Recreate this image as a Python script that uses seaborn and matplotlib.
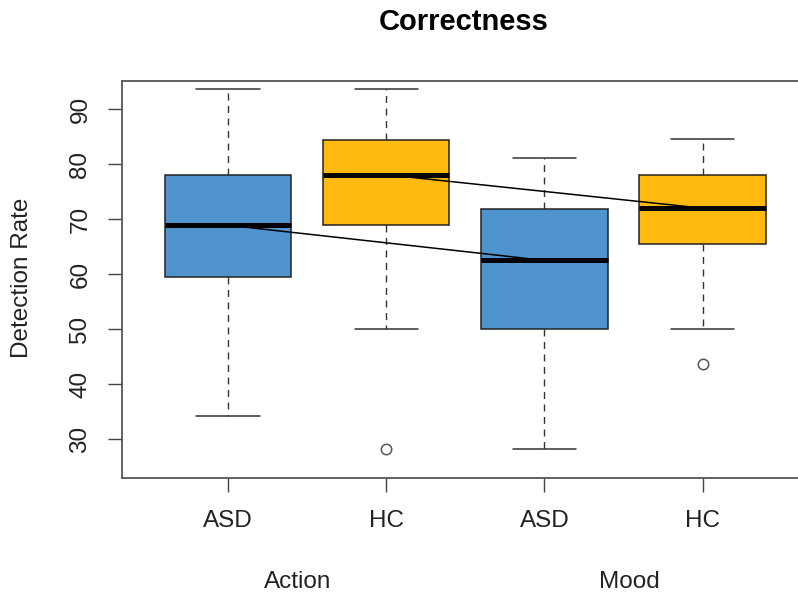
import matplotlib
matplotlib.use("Agg")
import matplotlib.pyplot as plt
import seaborn as sns
import pandas as pd

# ---- data ----
groups = ["ASD", "HC", "ASD", "HC"]
conditions = ["Action", "Action", "Mood", "Mood"]
whisker_low = [34.2, 50.0, 28.1, 50.0]
q1 = [59.4, 68.9, 50.0, 65.5]
medians = [68.9, 78.1, 62.5, 72.0]
q3 = [78.0, 84.5, 71.9, 78.0]
whisker_high = [93.7, 93.7, 81.2, 84.6]
outliers = [[], [28.2], [], [43.7]]
box_colors = ["#4F94CD", "#FFB90F", "#4F94CD", "#FFB90F"]
y_ticks = [30, 40, 50, 60, 70, 80, 90]
condition_labels = ["Action", "Mood"]

sns.set_theme(style="white")
plt.rcParams["font.family"] = ["Liberation Sans", "DejaVu Sans"]

W, H = 798, 597
fig = plt.figure(figsize=(W / 100, H / 100), dpi=100)
ax = fig.add_axes([122 / W, 1 - 478 / H, 685 / W, 397 / H])

positions = list(range(len(groups)))
stats = []
for i in positions:
    stats.append(dict(med=medians[i], q1=q1[i], q3=q3[i],
                      whislo=whisker_low[i], whishi=whisker_high[i],
                      fliers=outliers[i], label=groups[i]))

res = ax.bxp(stats, positions=positions, widths=0.8, capwidths=0.4,
             patch_artist=True, showfliers=True,
             boxprops=dict(edgecolor="#222222", linewidth=1.1),
             medianprops=dict(color="black", linewidth=3.6, solid_capstyle="butt"),
             whiskerprops=dict(color="#333333", linewidth=1.0, linestyle=(0, (5, 4))),
             capprops=dict(color="#333333", linewidth=1.1),
             flierprops=dict(marker="o", markerfacecolor="white",
                             markeredgecolor="#555555", markersize=7.5,
                             markeredgewidth=1.1))
for patch, c in zip(res["boxes"], box_colors):
    patch.set_facecolor(c)

# lines connecting medians of same group across conditions
df = pd.DataFrame({"pos": positions, "median": medians, "group": groups})
sns.lineplot(data=df, x="pos", y="median", units="group", estimator=None,
             color="black", linewidth=1.1, ax=ax, legend=False, sort=True)

ax.set_xlim(-0.67, 3.66)
ax.set_ylim(22.9, 95.15)
ax.set_xticks(positions)
ax.set_xticklabels(groups)
ax.set_yticks(y_ticks)
ax.set_yticklabels([str(t) for t in y_ticks])
ax.set_xlabel("")
ax.set_ylabel("")
ax.tick_params(axis="both", which="both", bottom=True, left=True, length=10,
               width=1.0, color="#444444", labelsize=17.5, labelcolor="#222222",
               direction="out")
ax.tick_params(axis="x", pad=13)
ax.tick_params(axis="y", pad=12, labelrotation=90)
for lab in ax.get_yticklabels():
    lab.set_va("center")
for sp in ax.spines.values():
    sp.set_visible(True)
    sp.set_color("#555555")
    sp.set_linewidth(1.3)

# condition labels under groups
trans = ax.get_xaxis_transform()
ax.text(0.44, (478 - 582) / 397, condition_labels[0], transform=trans,
        ha="center", va="center", fontsize=17.5, color="#222222")
ax.text(2.54, (478 - 582) / 397, condition_labels[1], transform=trans,
        ha="center", va="center", fontsize=17.5, color="#222222")

fig.text(464 / W, 1 - 22 / H, "Correctness", ha="center", va="center",
         fontsize=21, fontweight="bold", color="black")
fig.text(22 / W, 1 - 278 / H, "Detection Rate", ha="center", va="center",
         rotation=90, fontsize=17.5, color="#222222")

fig.savefig("out.png", dpi=100)
